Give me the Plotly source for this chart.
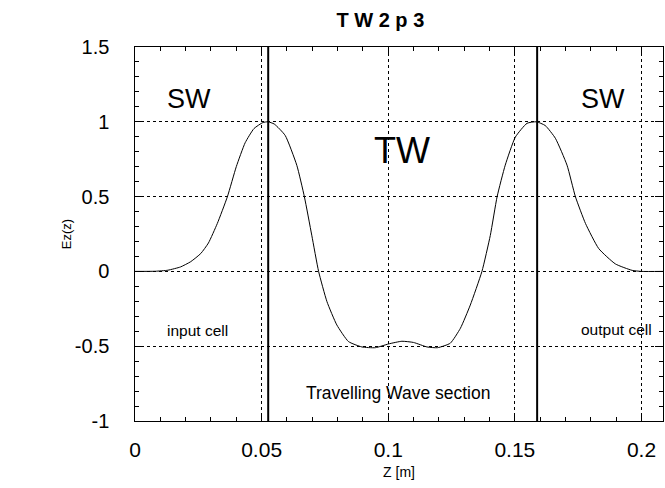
import plotly.graph_objects as go

# ---- data ----
z_m = [0.000, 0.008, 0.013, 0.018, 0.022, 0.026, 0.029, 0.0325, 0.0365, 0.040,
       0.0435, 0.047, 0.0505, 0.0525, 0.055, 0.0593, 0.0639, 0.0669, 0.0698, 0.0725,
       0.0758, 0.0797, 0.0843, 0.0896, 0.0949, 0.1001, 0.1054, 0.110, 0.1153, 0.1195,
       0.1245, 0.1285, 0.1324, 0.137, 0.1403, 0.143, 0.1462, 0.1502, 0.1548, 0.1585,
       0.162, 0.166, 0.1706, 0.1739, 0.1779, 0.1831, 0.1897, 0.1963, 0.200, 0.2085]
ez = [0.000, 0.001, 0.008, 0.03, 0.065, 0.12, 0.19, 0.32, 0.50, 0.70,
      0.86, 0.955, 0.995, 1.0, 0.985, 0.909, 0.709, 0.498, 0.242, 0.0,
      -0.202, -0.358, -0.469, -0.505, -0.51, -0.485, -0.467, -0.475, -0.505, -0.51,
      -0.48, -0.38, -0.225, 0.0, 0.24, 0.5, 0.71, 0.898, 0.99, 1.0,
      0.975, 0.89, 0.71, 0.5, 0.32, 0.153, 0.05, 0.007, 0.0, 0.0]

cell_boundaries = [0.0526, 0.1588]

x_ticks = [0, 0.05, 0.1, 0.15, 0.2]
x_ticklabels = ["0", "0.05", "0.1", "0.15", "0.2"]
y_ticks = [-1, -0.5, 0, 0.5, 1, 1.5]
y_ticklabels = ["-1", "-0.5", "0", "0.5", "1", "1.5"]

labels = [
    ("SW", 0.0215, 1.153, 27),
    ("SW", 0.1850, 1.153, 27),
    ("TW", 0.1055, 0.807, 36),
    ("input cell", 0.0245, -0.393, 15.5),
    ("output cell", 0.1900, -0.385, 15.5),
    ("Travelling Wave section", 0.1040, -0.813, 17.5),
]

FONT = "Liberation Sans, Arial, Helvetica, sans-serif"
PAD = "\u00a0\u00a0\u00a0\u2009"  # gap between y tick labels and the axis

fig = go.Figure()
fig.add_trace(go.Scatter(x=z_m, y=ez, mode="lines",
                         line=dict(color="black", width=1, shape="spline", smoothing=0.5),
                         showlegend=False, hoverinfo="skip"))

for xb in cell_boundaries:
    fig.add_shape(type="line", xref="x", yref="paper", x0=xb, x1=xb, y0=0, y1=1,
                  line=dict(color="black", width=2))

for txt, xx, yy, fs in labels:
    fig.add_annotation(x=xx, y=yy, xref="x", yref="y", text=txt, showarrow=False,
                       font=dict(family=FONT, size=fs, color="black"))

axis_common = dict(
    showline=True, linecolor="black", linewidth=1, mirror="allticks",
    ticks="inside", ticklen=8, tickwidth=1, tickcolor="black",
    showgrid=True, gridcolor="black", gridwidth=1, griddash="dot",
    zeroline=False, layer="above traces",
)

fig.update_xaxes(range=[0, 0.2085], tickvals=x_ticks, ticktext=x_ticklabels,
                 tickfont=dict(family=FONT, size=21, color="black"),
                 ticklabelstandoff=10,
                 minor=dict(dtick=0.01, tick0=0, ticks="inside", ticklen=4, tickcolor="black", showgrid=False),
                 title=dict(text="Z [m]", font=dict(family=FONT, size=14, color="black"), standoff=6),
                 **axis_common)
fig.update_yaxes(range=[-1, 1.5], tickvals=y_ticks, ticktext=[t + PAD for t in y_ticklabels],
                 tickfont=dict(family=FONT, size=20, color="black"),
                 minor=dict(dtick=0.1, tick0=0, ticks="inside", ticklen=4, tickcolor="black", showgrid=False),
                 title=dict(text="Ez(z)", font=dict(family=FONT, size=13, color="black"), standoff=0),
                 **axis_common)

fig.update_layout(
    template="none",
    width=665, height=488,
    margin=dict(l=135, r=2, t=47, b=67),
    paper_bgcolor="white", plot_bgcolor="white",
    title=dict(text="<b>T W 2 p 3</b>", x=0.572, xanchor="center", y=0.96, yanchor="middle",
               font=dict(family=FONT, size=20, color="black")),
    showlegend=False,
)

fig.write_html("out.html")
